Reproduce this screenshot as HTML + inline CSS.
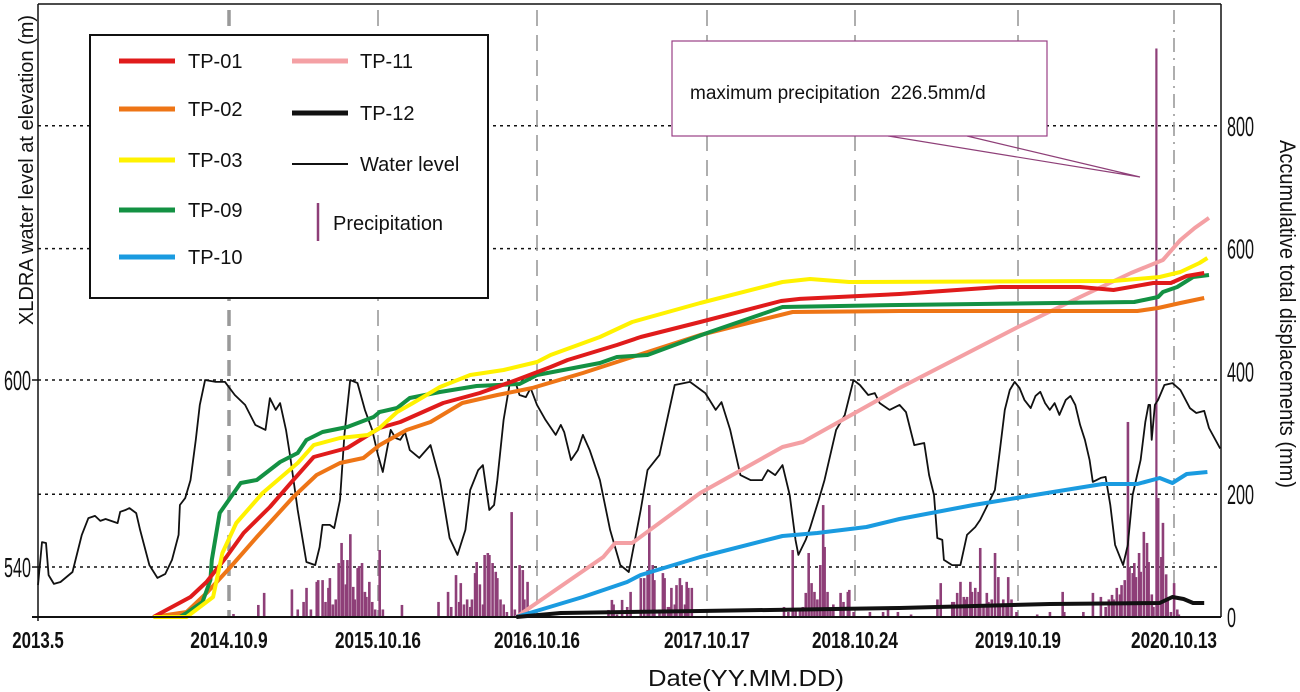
<!DOCTYPE html>
<html><head><meta charset="utf-8"><style>
html,body{margin:0;padding:0;background:#fff;}
svg{display:block;font-family:"Liberation Sans",sans-serif;}
</style></head><body>
<svg id="chart" width="1300" height="692" viewBox="0 0 1300 692">
<g id="grid"></g>
<g id="bars"></g>
<g id="lines"></g>
<g id="axes"></g>
<g>
  <rect x="90" y="35" width="398" height="263" fill="#fff" stroke="#111" stroke-width="2"/>
  <g font-size="20" fill="#111">
  <g><line x1="119" y1="61" x2="175" y2="61" stroke="#e01b1b" stroke-width="5"/><text x="188" y="68">TP-01</text></g>
  <g><line x1="119" y1="109" x2="175" y2="109" stroke="#ee7516" stroke-width="5"/><text x="188" y="116">TP-02</text></g>
  <g><line x1="119" y1="160" x2="175" y2="160" stroke="#fff200" stroke-width="5"/><text x="188" y="167">TP-03</text></g>
  <g><line x1="119" y1="210" x2="175" y2="210" stroke="#139143" stroke-width="5"/><text x="188" y="217">TP-09</text></g>
  <g><line x1="119" y1="257" x2="175" y2="257" stroke="#1a9be0" stroke-width="5"/><text x="188" y="264">TP-10</text></g>
  <g><line x1="292" y1="61" x2="348" y2="61" stroke="#f4a0a4" stroke-width="5"/><text x="360" y="68">TP-11</text></g>
  <g><line x1="292" y1="113" x2="348" y2="113" stroke="#111" stroke-width="5"/><text x="360" y="120">TP-12</text></g>
  <g><line x1="292" y1="164" x2="348" y2="164" stroke="#111" stroke-width="2"/><text x="360" y="171">Water level</text></g>
  <g><line x1="318" y1="203" x2="318" y2="241" stroke="#8e3f78" stroke-width="2.5"/><text x="333" y="230">Precipitation</text></g>
  </g>
</g>
<g>
  <polyline points="888,136 1140,177 967,136" fill="none" stroke="#8e3f78" stroke-width="1.2"/>
  <rect x="672" y="41" width="375" height="95" fill="#fff" stroke="#9a3f85" stroke-width="1.2"/>
  <text x="690" y="99" font-size="19" fill="#111" xml:space="preserve">maximum precipitation  226.5mm/d</text>
</g>
<text x="746" y="686" font-size="23" text-anchor="middle" fill="#111" textLength="196" lengthAdjust="spacingAndGlyphs">Date(YY.MM.DD)</text>
<text transform="translate(33,170) rotate(-90)" font-size="20" text-anchor="middle" fill="#111">XLDRA water level at elevation (m)</text>
<text transform="translate(1280,314) rotate(90)" font-size="22" text-anchor="middle" fill="#111" textLength="348" lengthAdjust="spacingAndGlyphs">Accumulative total displacements (mm)</text>
</svg>
<script>
// ---- data ----
const dateTickLabels = ['2013.5','2014.10.9','2015.10.16','2016.10.16','2017.10.17','2018.10.24','2019.10.19','2020.10.13'];
const dateTickYears = [2013.33,2014.77,2015.79,2016.79,2017.79,2018.81,2019.80,2020.78];
const rightTicks = [0,200,400,600,800];
const leftTicks = [540,600];
const seriesNames = ['TP-01','TP-02','TP-03','TP-09','TP-10','TP-11','TP-12'];
const tp01 = [[2014.20,0],[2014.48,32.6],[2014.60,57],[2014.75,97.7],[2014.87,136.8],[2015.05,179.2],[2015.21,223],[2015.35,260.6],[2015.58,275.3],[2015.80,307.8],[2015.93,317.6],[2016.20,348.5],[2016.43,364.8],[2016.66,386],[2016.87,407.2],[2016.97,418.6],[2017.26,443],[2017.40,456],[2017.75,480.5],[2018.30,514.7],[2018.43,518],[2019.08,526],[2019.69,537.5],[2020.19,537.5],[2020.40,532.6],[2020.65,544],[2020.76,544],[2020.86,555.4],[2020.97,560.3]];
const tp02 = [[2014.20,0],[2014.45,8.1],[2014.60,39],[2014.78,81.4],[2014.96,130.3],[2015.21,195.4],[2015.37,231.3],[2015.53,250.8],[2015.69,259],[2015.80,280],[2015.97,304.6],[2016.12,317.6],[2016.32,348.5],[2016.54,361.6],[2016.76,373],[2017.06,397.4],[2017.35,423.5],[2017.75,459.3],[2018.38,496.8],[2019.08,498.4],[2020.55,498.4],[2020.68,503.3],[2020.82,511.4],[2020.97,519.6]];
const tp03 = [[2014.20,0],[2014.45,0],[2014.65,32.6],[2014.72,104.2],[2014.82,153.1],[2015.00,202],[2015.24,250.8],[2015.35,280],[2015.53,291.6],[2015.72,296.4],[2015.80,307.8],[2015.91,333.9],[2016.01,348.5],[2016.18,374.6],[2016.37,394.2],[2016.58,402.3],[2016.79,415.3],[2016.87,426.7],[2017.16,456],[2017.35,480.5],[2017.75,511.4],[2018.31,545.6],[2018.50,550.5],[2018.77,545.6],[2020.40,547.2],[2020.69,553.7],[2020.82,561.9],[2020.94,576.6],[2020.99,584.7]];
const tp09 = [[2014.40,0],[2014.45,6.5],[2014.57,24.4],[2014.63,60.3],[2014.64,92.8],[2014.70,169.4],[2014.85,218.3],[2014.96,223.1],[2015.12,252.5],[2015.24,267.1],[2015.30,288.3],[2015.41,301.3],[2015.58,309.5],[2015.76,325.7],[2015.80,333.9],[2015.91,340.4],[2015.99,356.7],[2016.18,366.5],[2016.41,376.3],[2016.68,379.5],[2016.79,394.2],[2017.16,413.7],[2017.26,423.5],[2017.44,426.7],[2017.79,462.5],[2018.31,504.9],[2019.08,508.2],[2020.53,513],[2020.68,521.2],[2020.71,529.3],[2020.80,537.5],[2020.90,553.8],[2021.00,557]];
const tp10 = [[2016.66,0],[2017.06,32.6],[2017.32,57],[2017.40,68.4],[2017.75,97.7],[2018.31,131.9],[2018.55,136.8],[2018.88,146.6],[2019.08,159.6],[2019.53,182.4],[2020.02,203.6],[2020.33,216.6],[2020.55,216.6],[2020.69,226.4],[2020.77,218.3],[2020.86,232.9],[2020.99,236.2]];
const tp11 = [[2016.66,0],[2017.18,97.7],[2017.25,120.5],[2017.35,120.5],[2017.75,202],[2018.31,276.9],[2018.45,285],[2019.08,373],[2019.80,472.3],[2020.19,521.2],[2020.51,560.3],[2020.71,581.5],[2020.82,614],[2020.91,633.6],[2021.00,650]];
const tp12 = [[2016.66,0],[2016.93,6.5],[2017.75,9.8],[2019.08,14.7],[2020.00,21.2],[2020.69,22.8],[2020.77,32.6],[2020.84,29.3],[2020.90,22.8],[2020.97,22.8]];
const waterLevel = [[2013.33,534.2],[2013.36,548.0],[2013.39,547.7],[2013.41,537.4],[2013.45,534.6],[2013.50,535.2],[2013.59,538.4],[2013.66,550.3],[2013.71,555.7],[2013.76,556.4],[2013.80,554.8],[2013.84,555.4],[2013.93,554.1],[2013.95,557.7],[2013.99,558.3],[2014.02,558.9],[2014.07,557.3],[2014.10,551.9],[2014.17,540.6],[2014.23,536.5],[2014.29,537.8],[2014.34,542.3],[2014.39,550.3],[2014.40,559.9],[2014.44,562.1],[2014.48,567.9],[2014.52,580.8],[2014.55,592.0],[2014.59,600],[2014.67,599.4],[2014.74,599.4],[2014.81,595.2],[2014.88,592.0],[2014.95,585.6],[2015.02,584.0],[2015.05,594.2],[2015.09,590.4],[2015.12,592.6],[2015.16,584.0],[2015.19,575.0],[2015.24,558.3],[2015.30,541.6],[2015.36,540.6],[2015.39,546.4],[2015.41,553.5],[2015.46,553.5],[2015.49,552.5],[2015.53,561.5],[2015.56,582.4],[2015.60,600],[2015.65,599.0],[2015.70,590.4],[2015.75,584.0],[2015.79,575.9],[2015.82,570.5],[2015.87,584.0],[2015.90,581.4],[2015.93,580.8],[2015.96,583.3],[2015.99,577.5],[2016.05,575.0],[2016.12,579.1],[2016.18,567.9],[2016.24,549.3],[2016.29,543.9],[2016.34,551.9],[2016.37,564.7],[2016.42,571.1],[2016.45,572.7],[2016.49,558.3],[2016.52,559.9],[2016.54,567.9],[2016.58,587.2],[2016.62,599.4],[2016.66,598.4],[2016.68,595.2],[2016.72,594.5],[2016.75,597.4],[2016.79,592.0],[2016.84,587.2],[2016.90,582.4],[2016.93,585.6],[2016.95,583.3],[2016.99,574.3],[2017.03,577.5],[2017.06,582.4],[2017.10,577.5],[2017.16,567.9],[2017.22,551.9],[2017.28,540.6],[2017.33,538.4],[2017.40,558.3],[2017.44,571.1],[2017.51,575.9],[2017.60,598.4],[2017.69,599.4],[2017.78,595.8],[2017.85,590.4],[2017.89,592.9],[2017.95,584.0],[2018.02,569.5],[2018.09,567.9],[2018.17,567.9],[2018.21,571.1],[2018.26,569.5],[2018.31,572.7],[2018.36,563.1],[2018.40,548.7],[2018.42,543.9],[2018.47,548.7],[2018.50,552.5],[2018.56,561.5],[2018.60,567.9],[2018.68,584.0],[2018.74,588.8],[2018.80,600],[2018.84,598.4],[2018.89,595.2],[2018.93,595.8],[2018.96,592.6],[2019.02,590.4],[2019.08,592.0],[2019.12,589.7],[2019.17,579.1],[2019.23,579.8],[2019.26,569.5],[2019.29,563.1],[2019.31,549.3],[2019.34,548.7],[2019.35,542.3],[2019.40,540.6],[2019.45,540.6],[2019.49,550.3],[2019.54,552.8],[2019.57,555.1],[2019.60,558.3],[2019.63,561.5],[2019.66,564.7],[2019.69,577.5],[2019.72,590.4],[2019.75,596.8],[2019.78,599.4],[2019.81,597.4],[2019.84,593.6],[2019.88,591.0],[2019.91,594.9],[2019.94,596.2],[2019.97,592.6],[2020.00,590.4],[2020.03,592.6],[2020.06,588.8],[2020.10,593.6],[2020.13,594.9],[2020.16,592.0],[2020.19,585.6],[2020.22,580.8],[2020.25,574.3],[2020.27,567.3],[2020.32,568.6],[2020.35,568.9],[2020.38,559.9],[2020.41,547.1],[2020.46,540.6],[2020.49,547.1],[2020.52,563.1],[2020.57,574.3],[2020.60,586.5],[2020.62,592.0],[2020.63,592.0],[2020.64,580.8],[2020.66,592.0],[2020.68,593.6],[2020.72,598.4],[2020.77,599.0],[2020.82,596.8],[2020.88,591.0],[2020.92,589.4],[2020.97,590.1],[2021.00,584.6],[2021.07,578]];
const precipYears = [2014.80,2014.97,2015.01,2015.20,2015.24,2015.28,2015.30,2015.33,2015.37,2015.38,2015.41,2015.43,2015.45,2015.46,2015.48,2015.50,2015.52,2015.54,2015.55,2015.57,2015.58,2015.60,2015.62,2015.63,2015.65,2015.66,2015.68,2015.70,2015.71,2015.73,2015.75,2015.77,2015.80,2015.82,2015.94,2016.17,2016.23,2016.25,2016.28,2016.30,2016.31,2016.33,2016.35,2016.37,2016.38,2016.40,2016.41,2016.43,2016.45,2016.46,2016.48,2016.49,2016.51,2016.53,2016.54,2016.56,2016.58,2016.60,2016.63,2016.65,2016.68,2016.70,2016.71,2016.73,2016.75,
2017.21,2017.23,2017.24,2017.26,2017.29,2017.32,2017.34,2017.40,2017.42,2017.44,2017.45,2017.47,2017.48,2017.51,2017.53,2017.54,2017.56,2017.57,2017.58,2017.60,2017.61,2017.63,2017.64,2017.66,2017.67,2017.68,2017.70,
2018.32,2018.35,2018.38,2018.40,2018.43,2018.45,2018.47,2018.49,2018.51,2018.53,2018.55,2018.57,2018.59,2018.60,2018.62,2018.64,2018.66,2018.71,2018.73,2018.76,2018.77,2018.80,2018.90,2018.98,2019.01,
2019.07,2019.15,2019.31,2019.33,2019.40,2019.41,2019.43,2019.45,2019.47,2019.48,2019.49,2019.51,2019.52,2019.54,2019.56,2019.57,2019.59,2019.61,2019.62,2019.64,2019.66,2019.68,2019.69,2019.71,2019.73,2019.74,2019.76,2019.79,
2019.92,2020.00,2020.08,2020.09,2020.21,2020.27,2020.32,2020.35,2020.37,2020.39,2020.40,2020.42,2020.44,2020.45,2020.47,2020.49,2020.50,2020.52,2020.53,2020.54,2020.56,2020.57,2020.59,2020.61,2020.62,2020.64,2020.65,2020.67,2020.68,2020.70,2020.71,2020.73,2020.74,2020.76,2020.78,2020.80,2020.81];
const precipValues = [1.2,4.8,9.6,11,3,6,11.6,3,14,14.7,14.7,6,11.6,15.5,5,7,21.5,29.5,22.7,13,22.7,33,12,7,19.5,20.3,21.5,10,8,14,6,3,26.7,3,4.8,6,10,4,16.7,6,13.5,5,7,4,7,17.5,21.9,13,5,24.7,25.5,24.7,21.5,18,15.5,7,5,2,41.8,3,20.7,18.7,7,14,2,
2.8,6.8,5,1,6.8,4,10,15.5,15.5,18.7,44.6,20.7,14.7,3,17.5,15.5,4,4,11.6,5,12.7,15.5,12.7,5,14,11.6,11.6,
4,2,26.7,3,3,4,9.6,25.5,13.5,10,7,20.7,44.6,27.9,10,3,5,9.6,6,10,10.8,2,2,2,3,
2,1,7,13.5,6,6,9.6,14,8,7,8,14,10,11.6,10,27.5,5,9.6,6,7,25.5,15.9,5,7,4,15.9,7,2,
1,2,10,2,2,9.6,8,4,7,8.8,7,11.6,9,12.7,14.7,77.7,19.9,17.5,21.5,15.9,25.5,18,33.9,29.5,21.9,9,4,226.5,47.4,23.9,37.5,17,8,2,13.5,3,1];

// ---- axis config (layout) ----
const NS='http://www.w3.org/2000/svg';
const tickPx=[38,229,378,537,707,855,1018,1174];
const X0=38, X1=1221, BASE=617, TOP=4;
function xs(yr){
  let i=0; while(i<dateTickYears.length-2 && yr>dateTickYears[i+1]) i++;
  return tickPx[i]+(yr-dateTickYears[i])*(tickPx[i+1]-tickPx[i])/(dateTickYears[i+1]-dateTickYears[i]);
}
const yDisp=v=>BASE-v*0.614;
const yLevel=m=>380-(m-600)*3.117;
const yPrec=p=>BASE-p*2.51;
function mk(tag,attrs,parent){const e=document.createElementNS(NS,tag);for(const k in attrs)e.setAttribute(k,attrs[k]);parent.appendChild(e);return e;}
const grid=document.getElementById('grid'),bars=document.getElementById('bars'),lines=document.getElementById('lines'),axes=document.getElementById('axes');

[yDisp(800),yDisp(600),yDisp(200)].concat(leftTicks.map(yLevel)).forEach(y=>{
  const l=mk('line',{x1:X0,x2:X1,y1:y,y2:y,stroke:'#111','stroke-width':1.5,'stroke-dasharray':'3,4'},grid);
  
  
});
dateTickYears.forEach((yr,i)=>{
  if(i===0) return;
  const x=xs(yr);
  const l=mk('line',{x1:x,x2:x,y1:TOP+6,y2:BASE,stroke:i===1?'#999':'#9a9a9a','stroke-width':i===1?3.5:1.6,'stroke-dasharray':i===7?'14,6,2,6':'16,9'},grid);
  
  
});

precipYears.forEach((yr,i)=>{
  const x=xs(yr), y=yPrec(precipValues[i]);
  const r=mk('rect',{x:x-1.2,y:y,width:precipValues[i]>200?2.2:2.6,height:BASE-y,fill:'#8e3f78'},bars);
  
  
});

function path(data,fy){return data.map((d,i)=>(i?'L':'M')+xs(d[0]).toFixed(1)+','+fy(d[1]).toFixed(1)).join('');}
const wl=mk('path',{d:path(waterLevel,yLevel),fill:'none',stroke:'#111','stroke-width':1.8,'stroke-linejoin':'round'},lines);


const seriesData=[tp01,tp02,tp03,tp09,tp10,tp11,tp12];
const colors=['#e01b1b','#ee7516','#fff200','#139143','#1a9be0','#f4a0a4','#111'];
const order=[5,4,6,1,3,0,2];
order.forEach(k=>{
  const p=mk('path',{d:path(seriesData[k],yDisp),fill:'none',stroke:colors[k],'stroke-width':4,'stroke-linejoin':'round'},lines);
  
  
});

mk('line',{x1:X0,x2:X1,y1:TOP,y2:TOP,stroke:'#111','stroke-width':1.5},axes);
mk('line',{x1:X0,x2:X0,y1:TOP,y2:BASE+4,stroke:'#111','stroke-width':1.5},axes);
mk('line',{x1:X1,x2:X1,y1:TOP,y2:BASE,stroke:'#111','stroke-width':1.5},axes);
mk('line',{x1:32,x2:X1,y1:BASE,y2:BASE,stroke:'#111','stroke-width':2},axes);
dateTickYears.forEach((yr,i)=>{
  const x=xs(yr);
  const t=mk('text',{x:x,y:648,'font-size':23,'font-weight':'bold','text-anchor':'middle',fill:'#111',textLength:dateTickLabels[i].length*8.6,lengthAdjust:'spacingAndGlyphs'},axes);
  t.textContent=dateTickLabels[i];
  
  
});
leftTicks.forEach(m=>{
  const y=yLevel(m);
  mk('line',{x1:32,x2:X0,y1:y,y2:y,stroke:'#111','stroke-width':1.5},axes);
  const t=mk('text',{x:31,y:y+10,'font-size':28,'text-anchor':'end',fill:'#111',textLength:27,lengthAdjust:'spacingAndGlyphs'},axes);
  t.textContent=String(m);
  
  
});
rightTicks.forEach(v=>{
  const y=yDisp(v);
  const s=String(v);
  const t=mk('text',{x:1227,y:y+10,'font-size':28,fill:'#111',textLength:s.length*9,lengthAdjust:'spacingAndGlyphs'},axes);
  t.textContent=s;
  
  
});
</script>
</body></html>
